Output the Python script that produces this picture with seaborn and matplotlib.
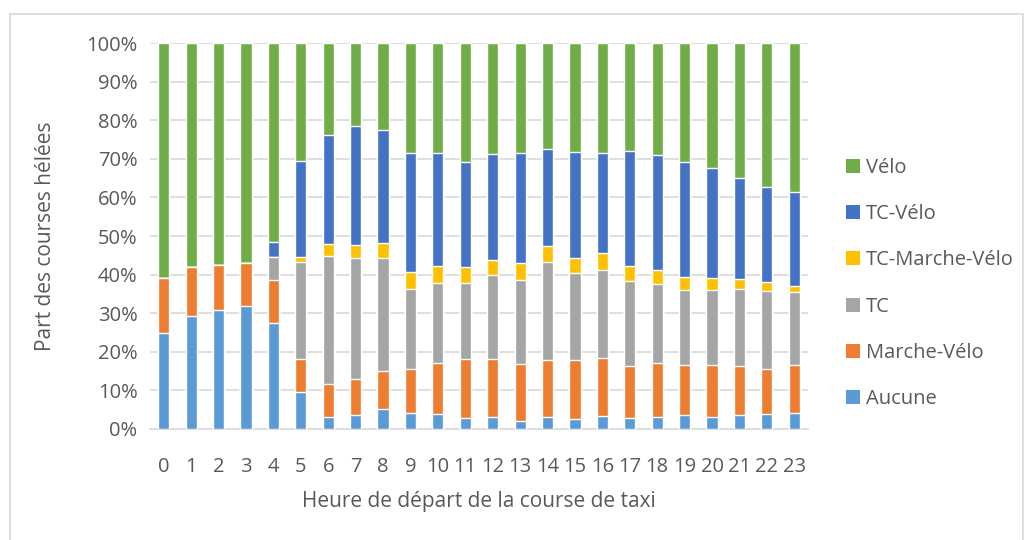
import numpy as np
import pandas as pd
import matplotlib
matplotlib.use("Agg")
import matplotlib.pyplot as plt
from matplotlib.patches import Patch, Rectangle
import seaborn as sns

# Données (part en %)
heures = [str(h) for h in range(24)]
aucune = [24.8, 29.4, 30.8, 31.8, 27.4, 9.7, 3.2, 3.5, 5.1, 4.1, 3.8, 2.9,
          3.2, 2.2, 3.0, 2.5, 3.3, 2.8, 3.2, 3.5, 3.0, 3.6, 3.8, 4.1]
marche_velo = [14.2, 12.5, 11.8, 11.2, 11.1, 8.5, 8.4, 9.4, 9.9, 11.4, 13.2, 15.3,
               15.0, 14.6, 14.8, 15.3, 15.0, 13.4, 13.8, 13.0, 13.7, 12.8, 11.7, 12.5]
tc = [0.0, 0.0, 0.0, 0.0, 6.1, 25.0, 33.2, 31.4, 29.2, 20.7, 20.8, 19.6,
      21.7, 21.7, 25.4, 22.6, 23.0, 22.1, 20.5, 19.5, 19.3, 19.8, 20.2, 18.8]
tc_marche_velo = [0.0, 0.0, 0.0, 0.0, 0.0, 1.4, 3.1, 3.4, 3.9, 4.6, 4.3, 4.2,
                  3.9, 4.5, 4.3, 4.0, 4.2, 3.8, 3.8, 3.5, 3.1, 2.6, 2.5, 1.7]
tc_velo = [0.0, 0.0, 0.0, 0.0, 3.8, 24.8, 28.2, 30.8, 29.4, 30.7, 29.4, 27.1,
           27.4, 28.5, 25.0, 27.3, 26.1, 30.0, 29.6, 29.8, 28.5, 26.1, 24.6, 24.2]
velo = [61.0, 58.1, 57.4, 57.0, 51.6, 30.6, 23.9, 21.5, 22.5, 28.5, 28.5, 30.9,
        28.8, 28.5, 27.5, 28.3, 28.4, 27.9, 29.1, 30.7, 32.4, 35.1, 37.2, 38.7]

modes = ['Aucune', 'Marche-Vélo', 'TC', 'TC-Marche-Vélo', 'TC-Vélo', 'Vélo']
couleurs = ['#5B9BD5', '#ED7D31', '#A5A5A5', '#FFC000', '#4472C4', '#70AD47']

df = pd.DataFrame({'heure': heures, 'Aucune': aucune, 'Marche-Vélo': marche_velo,
                   'TC': tc, 'TC-Marche-Vélo': tc_marche_velo, 'TC-Vélo': tc_velo,
                   'Vélo': velo})
# normalisation à 100 %
parts = df[modes].div(df[modes].sum(axis=1), axis=0)
cumul = parts.cumsum(axis=1)
cumul['heure'] = df['heure']

sns.set_style('white')
plt.rcParams['font.family'] = ['Open Sans', 'DejaVu Sans']
gris = '#595959'

fig = plt.figure(figsize=(10.36, 5.40), dpi=100)
ax = fig.add_axes([150 / 1036, 111 / 540, 658 / 1036, 386 / 540])

# barres empilées : on trace les cumuls du haut vers le bas
for mode, coul in reversed(list(zip(modes, couleurs))):
    sns.barplot(data=cumul, x='heure', y=mode, color=coul, width=0.41,
                saturation=1, ax=ax, zorder=3)

ax.set_ylim(0, 1)
ax.set_xlim(-0.5, 23.5)
ax.set_yticks(np.arange(0, 1.01, 0.1))
ax.set_yticklabels([f'{int(round(v * 100))}%' for v in np.arange(0, 1.01, 0.1)])
ax.yaxis.grid(True, color='#d9d9d9', linewidth=1.2, zorder=0)
ax.set_axisbelow(True)
for s in ['top', 'right', 'left']:
    ax.spines[s].set_visible(False)
ax.spines['bottom'].set_color('#d9d9d9')
ax.spines['bottom'].set_linewidth(1.2)
ax.tick_params(axis='both', length=0, labelsize=14.5, labelcolor=gris)
ax.tick_params(axis='x', pad=20)
ax.tick_params(axis='y', pad=9)
ax.set_xlabel('Heure de départ de la course de taxi', fontsize=15, color=gris, labelpad=10)
ax.set_ylabel('Part des courses hélées', fontsize=15, color=gris, labelpad=22)

handles = [Patch(facecolor=c, edgecolor='none') for c in reversed(couleurs)]
fig.legend(handles, list(reversed(modes)), loc='upper left',
           bbox_to_anchor=(828 / 1036, 1 - 140 / 540), frameon=False,
           fontsize=14.5, labelcolor=gris, handlelength=0.7, handleheight=0.7,
           handletextpad=0.3, labelspacing=1.3)

# cadre du graphique
fig.add_artist(Rectangle((10 / 1036, -0.02), 1013 / 1036, 1 - 14 / 540 + 0.02,
                         transform=fig.transFigure, fill=False,
                         edgecolor='#d9d9d9', linewidth=1.2))

fig.savefig('out.png', dpi=100)
